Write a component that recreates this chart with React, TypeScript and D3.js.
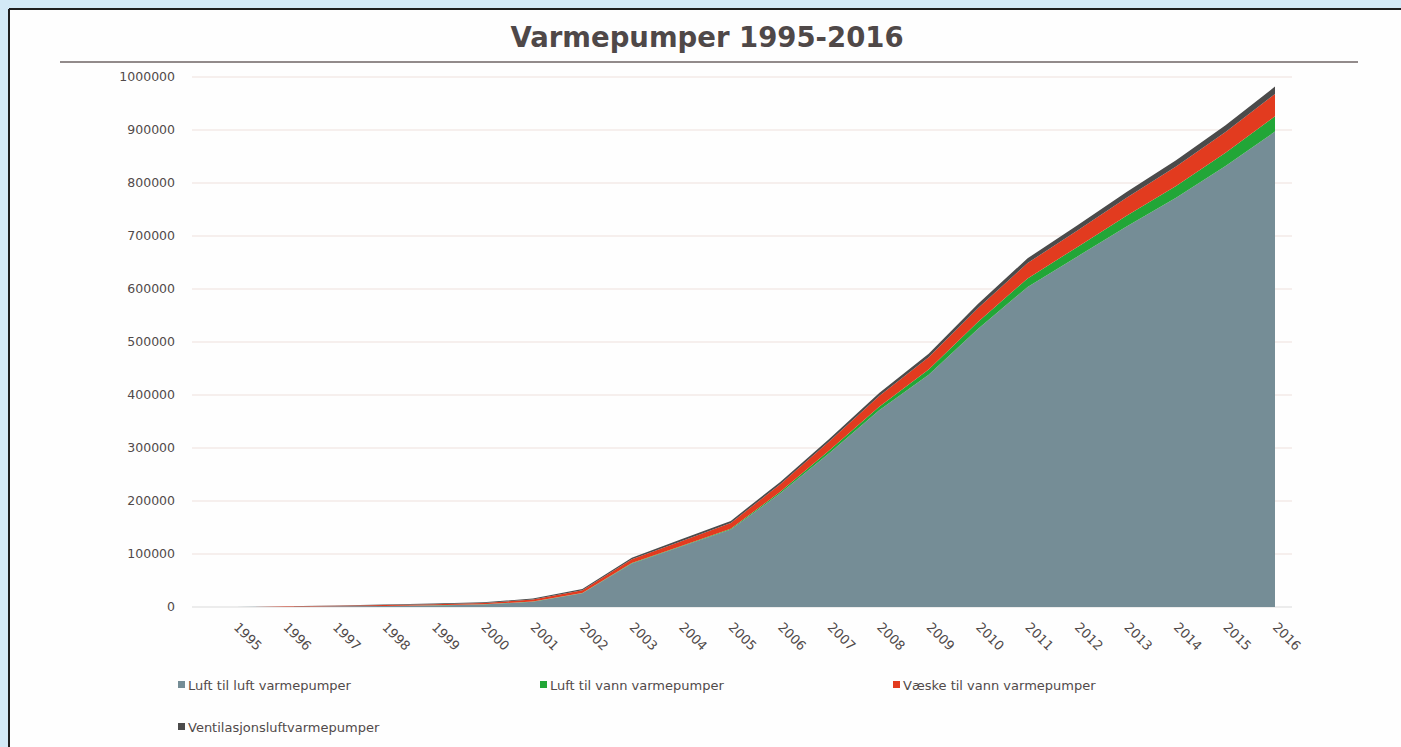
import React from "react";
import * as d3 from "d3";

// Varmepumper i Norge, akkumulert antall
const years = ["1995", "1996", "1997", "1998", "1999", "2000", "2001", "2002", "2003", "2004", "2005",
  "2006", "2007", "2008", "2009", "2010", "2011", "2012", "2013", "2014", "2015", "2016"];

const luftLuft = [0, 700, 1300, 1900, 3000, 4600, 10000, 25800, 82000, 114000, 146000,
  214500, 291000, 371000, 438000, 525000, 604000, 661000, 718000, 772000, 832000, 897000];
const luftVann = [0, 0, 100, 200, 300, 400, 500, 700, 900, 1200, 1500,
  3000, 5000, 7000, 10000, 13000, 16000, 18000, 20000, 22500, 25000, 29000];
const vaeskeVann = [0, 500, 1000, 1500, 2000, 2500, 3500, 5000, 7000, 9000, 11000,
  14000, 17000, 20000, 23000, 26000, 29000, 31000, 34000, 36500, 39000, 42000];
const ventilasjon = [0, 300, 600, 900, 1200, 1500, 2000, 2500, 3000, 3500, 4000,
  4500, 5000, 6000, 7000, 8000, 9000, 10000, 11000, 12000, 13000, 14000];

const seriesNames = ["Luft til luft varmepumper", "Luft til vann varmepumper", "Væske til vann varmepumper", "Ventilasjonsluftvarmepumper"];
const seriesColors = ["#758d96", "#22a637", "#e23b1f", "#4b4b4b"];
const yTicks = [0, 100000, 200000, 300000, 400000, 500000, 600000, 700000, 800000, 900000, 1000000];

const font = "'DejaVu Sans', Verdana, sans-serif";
const textColor = "#514a4a";

export default function App() {
  const width = 1401;
  const height = 747;

  const rows = years.map((y, i) => ({
    year: y,
    s0: luftLuft[i],
    s1: luftVann[i],
    s2: vaeskeVann[i],
    s3: ventilasjon[i]
  }));
  const keys = ["s0", "s1", "s2", "s3"];
  const stacked = d3.stack<any>().keys(keys)(rows);

  const x = d3.scalePoint<string>().domain(years).range([236, 1275]);
  const y = d3.scaleLinear().domain([0, 1000000]).range([607, 77]);

  const area = d3.area<any>()
    .x((d) => x(d.data.year) as number)
    .y0((d) => y(d[0]))
    .y1((d) => y(d[1]));

  const legendItems = [
    { x: 178, y: 685 },
    { x: 540, y: 685 },
    { x: 893, y: 685 },
    { x: 178, y: 727 }
  ];

  return (
    <svg width={width} height={height} style={{ position: "absolute", left: 0, top: 0 }} fontFamily={font}>
      <rect x={0} y={0} width={width} height={height} fill="#d3e9f6" />
      <rect x={9} y={9} width={width} height={height} fill="#fefefe" />
      <line x1={9} x2={width} y1={9} y2={9} stroke="#1e1e1e" strokeWidth={2} />
      <line x1={9} x2={9} y1={9} y2={height} stroke="#1e1e1e" strokeWidth={2} />

      <text x={707} y={47} textAnchor="middle" fontSize={27.5} fontWeight="bold" fill="#4f4848">
        Varmepumper 1995-2016
      </text>
      <line x1={60} x2={1358} y1={62} y2={62} stroke="#6e6464" strokeWidth={1.5} />

      {yTicks.map((t) => (
        <g key={t}>
          {t > 0 && <line x1={192} x2={1292} y1={y(t)} y2={y(t)} stroke="#eedfdb" strokeWidth={1.2} />}
          <text x={175} y={y(t)} dy="0.35em" textAnchor="end" fontSize={12.5} fill={textColor}>
            {t}
          </text>
        </g>
      ))}
      <line x1={192} x2={1292} y1={y(0)} y2={y(0)} stroke="#d9d9d9" strokeWidth={1.2} />

      {stacked.map((s, i) => (
        <path key={s.key} d={area(s as any) || ""} fill={seriesColors[i]} />
      ))}

      {years.map((yr) => (
        <text key={yr} transform={`translate(${(x(yr) as number) - 3},${628}) rotate(45)`}
          fontSize={13} fill={textColor}>
          {yr}
        </text>
      ))}

      {seriesNames.map((name, i) => (
        <g key={name} transform={`translate(${legendItems[i].x},${legendItems[i].y})`}>
          <rect x={0} y={-4} width={7} height={7} fill={seriesColors[i]} />
          <text x={10} y={0} dy="0.35em" fontSize={13} fill={textColor}>
            {name}
          </text>
        </g>
      ))}
    </svg>
  );
}
